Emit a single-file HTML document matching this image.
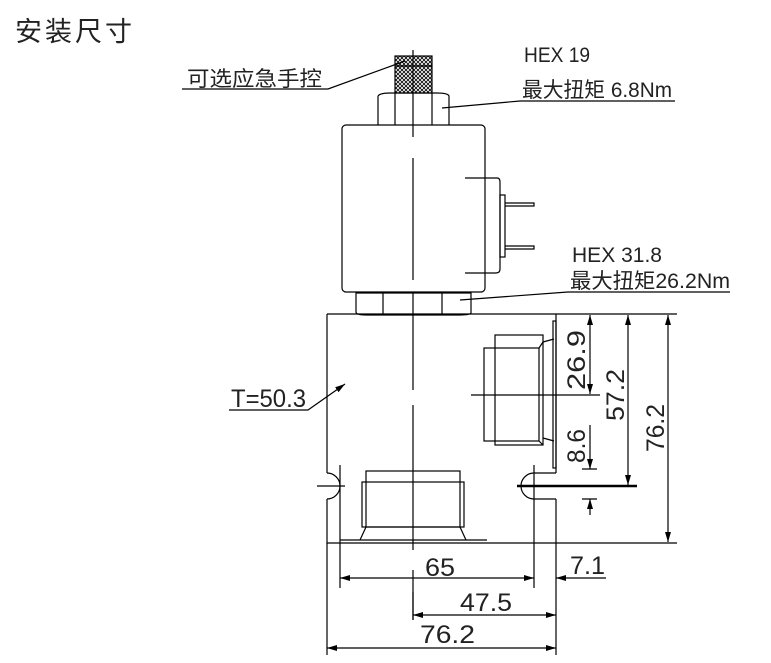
<!DOCTYPE html>
<html><head><meta charset="utf-8"><style>
html,body{margin:0;padding:0;background:#fff;}
svg{display:block;}
.t{font-family:"Liberation Sans","Noto Sans CJK SC",sans-serif;fill:#222;}
.c{font-family:"Liberation Sans","Noto Sans CJK SC",sans-serif;fill:#222;}
</style></head><body>
<svg width="771" height="663" viewBox="0 0 771 663" xmlns="http://www.w3.org/2000/svg">
<defs>
<pattern id="kn" width="4" height="4" patternUnits="userSpaceOnUse">
<path d="M0 0L4 4M4 0L0 4" stroke="#000" stroke-width="0.8"/></pattern>
<marker id="a" viewBox="0 0 10 6" refX="10" refY="3" markerWidth="10" markerHeight="6" orient="auto-start-reverse" markerUnits="userSpaceOnUse"><path d="M0 0L10 3L0 6z" fill="#000"/></marker>
</defs>
<text x="15" y="41" class="t" font-size="27" letter-spacing="3">安装尺寸</text>
<g stroke="#000" stroke-width="1.2" fill="none">
<path d="M413 50V137M413 158V280M413 292V390M413 405V550M413 570V620"/>
<rect x="395" y="56" width="37" height="37" fill="url(#kn)"/>
<path d="M395 66H432"/>
<path d="M378 96Q380 93 390 93H437Q448 93 449 96V125M378 96V125M395 93V125M432 93V125"/>
<rect x="342" y="125" width="143" height="167" rx="4"/>
<path d="M465 178H497Q500 178 500 182V269Q500 273 496 273H465"/>
<rect x="500" y="195" width="5" height="62"/>
<path d="M505 203H534V206H505M505 246H534V249H505"/>
<path d="M356 293H471V313Q470 315 460 315H366Q356 315 356 312ZM383 293V315M442 293V315"/>
<path d="M327 314H677M327 314V473M327 499V543H677M556 314V473M556 499V543"/>
<path d="M327 473A13 13 0 0 1 327 499M317 486H345"/>
<path d="M556 473H534A13 13 0 0 0 534 499H556"/>
<path d="M517 486H637" stroke-width="2.4"/>
<rect x="553" y="321" width="3" height="147"/>
<rect x="484" y="348" width="55" height="93"/>
<rect x="495" y="335" width="48" height="110"/>
<path d="M543 342L554 339M543 438L554 441M539 348L543 342M539 441L543 445"/>
<path d="M471 395H600"/>
<rect x="366" y="471" width="94" height="56"/>
<rect x="362" y="482" width="102" height="45"/>
<path d="M366 527L360 540M460 527L466 540M340 540H487"/>
<path d="M340 465V588M534 465V588M556 543V655M327 543V655M413 592V620"/>
<path d="M582 469H597M582 499H597"/>
<path d="M668 315V542" marker-start="url(#a)" marker-end="url(#a)"/>
<path d="M628 315V485" marker-start="url(#a)" marker-end="url(#a)"/>
<path d="M590 315V394" marker-start="url(#a)" marker-end="url(#a)"/>
<path d="M590 425V469" marker-end="url(#a)"/>
<path d="M590 515V499" marker-end="url(#a)"/>
<path d="M340 578H534" marker-start="url(#a)" marker-end="url(#a)"/>
<path d="M606 578H556" marker-end="url(#a)"/>
<path d="M413 615H556" marker-start="url(#a)" marker-end="url(#a)"/>
<path d="M327 648H556" marker-start="url(#a)" marker-end="url(#a)"/>
<path d="M182 89H328L405 61"/>
<path d="M675 101H520L442 108" />
<path d="M730 292H568L460 300"/>
<path d="M229 410H308L345 384" marker-end="url(#a)"/>
</g>
<g class="t" font-size="25">
<text x="425" y="576" textLength="30" lengthAdjust="spacingAndGlyphs">65</text>
<text x="570" y="574" textLength="35" lengthAdjust="spacingAndGlyphs">7.1</text>
<text x="460" y="611" textLength="52" lengthAdjust="spacingAndGlyphs">47.5</text>
<text x="420" y="643" textLength="55" lengthAdjust="spacingAndGlyphs">76.2</text>
<text x="231" y="407" textLength="75" lengthAdjust="spacingAndGlyphs">T=50.3</text>
<text transform="translate(585,390) rotate(-90)" textLength="60" lengthAdjust="spacingAndGlyphs">26.9</text>
<text transform="translate(624,421) rotate(-90)" textLength="52" lengthAdjust="spacingAndGlyphs">57.2</text>
<text transform="translate(664,452) rotate(-90)" textLength="48" lengthAdjust="spacingAndGlyphs">76.2</text>
<text transform="translate(585,463) rotate(-90)" textLength="34" lengthAdjust="spacingAndGlyphs">8.6</text>
</g>
<g class="c" font-size="21">
<text x="187" y="86" textLength="135" lengthAdjust="spacingAndGlyphs">可选应急手控</text>
<text x="524" y="62" textLength="66" lengthAdjust="spacingAndGlyphs">HEX 19</text>
<text x="522" y="97" textLength="150" lengthAdjust="spacingAndGlyphs">最大扭矩 6.8Nm</text>
<text x="572" y="262" textLength="90" lengthAdjust="spacingAndGlyphs">HEX 31.8</text>
<text x="570" y="288" textLength="160" lengthAdjust="spacingAndGlyphs">最大扭矩26.2Nm</text>
</g>
</svg>
</body></html>
